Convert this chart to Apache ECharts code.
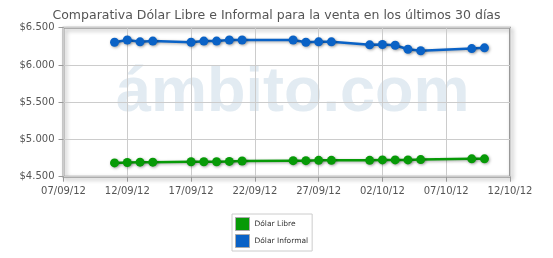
<!DOCTYPE html>
<html>
<head>
<meta charset="utf-8">
<script src="https://cdn.jsdelivr.net/npm/echarts@6/dist/echarts.min.js"></script>
<style>
html,body{margin:0;padding:0;background:#fff;}
#chart{width:553px;height:258px;}
</style>
</head>
<body>
<div id="chart"></div>
<script>
// Data
var dates = ["11/09/12","12/09/12","13/09/12","14/09/12","17/09/12","18/09/12","19/09/12","20/09/12","21/09/12",
             "25/09/12","26/09/12","27/09/12","28/09/12","01/10/12","02/10/12","03/10/12","04/10/12","05/10/12",
             "09/10/12","10/10/12"];
var dolarLibre = [4.685,4.69,4.695,4.695,4.70,4.70,4.70,4.705,4.71,
                  4.715,4.715,4.72,4.72,4.72,4.725,4.725,4.725,4.73,
                  4.74,4.74];
var dolarInformal = [6.305,6.335,6.31,6.32,6.305,6.32,6.32,6.335,6.335,
                     6.335,6.305,6.31,6.31,6.27,6.275,6.265,6.21,6.19,
                     6.22,6.23];
var xStart = "07/09/12";
var xEnd = "12/10/12";
var yTicks = [4.5,5.0,5.5,6.0,6.5];
var seriesNames = ["Dólar Libre","Dólar Informal"];

function parseD(s){var p=s.split("/");return Date.UTC(2000+ +p[2], +p[1]-1, +p[0]);}
var DAY = 86400000;
var base = parseD(xStart);
function dayOf(s){return Math.round((parseD(s)-base)/DAY);}
function fmtDay(v){
  var d=new Date(base+v*DAY);
  var dd=('0'+d.getUTCDate()).slice(-2), mm=('0'+(d.getUTCMonth()+1)).slice(-2), yy=('0'+(d.getUTCFullYear()%100)).slice(-2);
  return dd+'/'+mm+'/'+yy;
}
function fmtMoney(v){ return '$'+v.toFixed(3); }

var chart = echarts.init(document.getElementById('chart'), null, {renderer:'canvas'});
var font = 'DejaVu Sans';
var lineShadow = {shadowColor:'rgba(0,0,0,0.35)', shadowBlur:3, shadowOffsetX:1, shadowOffsetY:1};

chart.setOption({
  backgroundColor:'#ffffff',
  animation:false,
  title:{
    text:'Comparativa Dólar Libre e Informal para la venta en los últimos 30 días',
    left:'center', top:4,
    textStyle:{fontFamily:font, fontSize:12.5, fontWeight:'normal', color:'#555555'}
  },
  graphic:[{
    type:'text', left:116, top:62, z:0, silent:true,
    style:{text:'ámbito.com', font:'bold 63px "Liberation Sans"', fill:'#e2ebf2'}
  }],
  legend:{
    orient:'vertical', left:232, top:214,
    backgroundColor:'#fff',
    borderColor:'#cccccc', borderWidth:1, padding:[3,4,3,3],
    itemWidth:14, itemHeight:13, itemGap:3, icon:'rect',
    itemStyle:{borderColor:'#aaaaaa', borderWidth:1},
    textStyle:{fontFamily:font, fontSize:7.5, color:'#333'},
    data:seriesNames
  },
  grid:{
    show:true, left:63.5, right:43, top:27.7, bottom:81.3,
    borderColor:'#999999', borderWidth:2, backgroundColor:'transparent',
    shadowColor:'rgba(0,0,0,0.3)', shadowBlur:4, shadowOffsetX:2, shadowOffsetY:2
  },
  xAxis:{
    type:'value', min:0, max:dayOf(xEnd), interval:5,
    axisLine:{show:false},
    axisTick:{show:true, length:5, lineStyle:{color:'#999'}},
    splitLine:{show:true, lineStyle:{color:'#cccccc', width:1}},
    axisLabel:{formatter:fmtDay, fontFamily:font, fontSize:10, color:'#555555', margin:10}
  },
  yAxis:{
    type:'value', min:yTicks[0], max:yTicks[yTicks.length-1], interval:0.5,
    axisLine:{show:false},
    axisTick:{show:true, length:5, lineStyle:{color:'#999'}},
    splitLine:{show:true, lineStyle:{color:'#cccccc', width:1}},
    axisLabel:{formatter:fmtMoney, fontFamily:font, fontSize:10, color:'#555555', margin:9}
  },
  series:[
    {name:seriesNames[0], type:'line', symbol:'circle', symbolSize:9,
     data:dates.map(function(d,i){return [dayOf(d), dolarLibre[i]];}),
     itemStyle:Object.assign({color:'#079a07'}, lineShadow),
     lineStyle:Object.assign({color:'#079a07', width:2.5}, lineShadow), z:5},
    {name:seriesNames[1], type:'line', symbol:'circle', symbolSize:9,
     data:dates.map(function(d,i){return [dayOf(d), dolarInformal[i]];}),
     itemStyle:Object.assign({color:'#0a62c6'}, lineShadow),
     lineStyle:Object.assign({color:'#0a62c6', width:2.5}, lineShadow), z:5}
  ]
});
</script>
</body>
</html>
